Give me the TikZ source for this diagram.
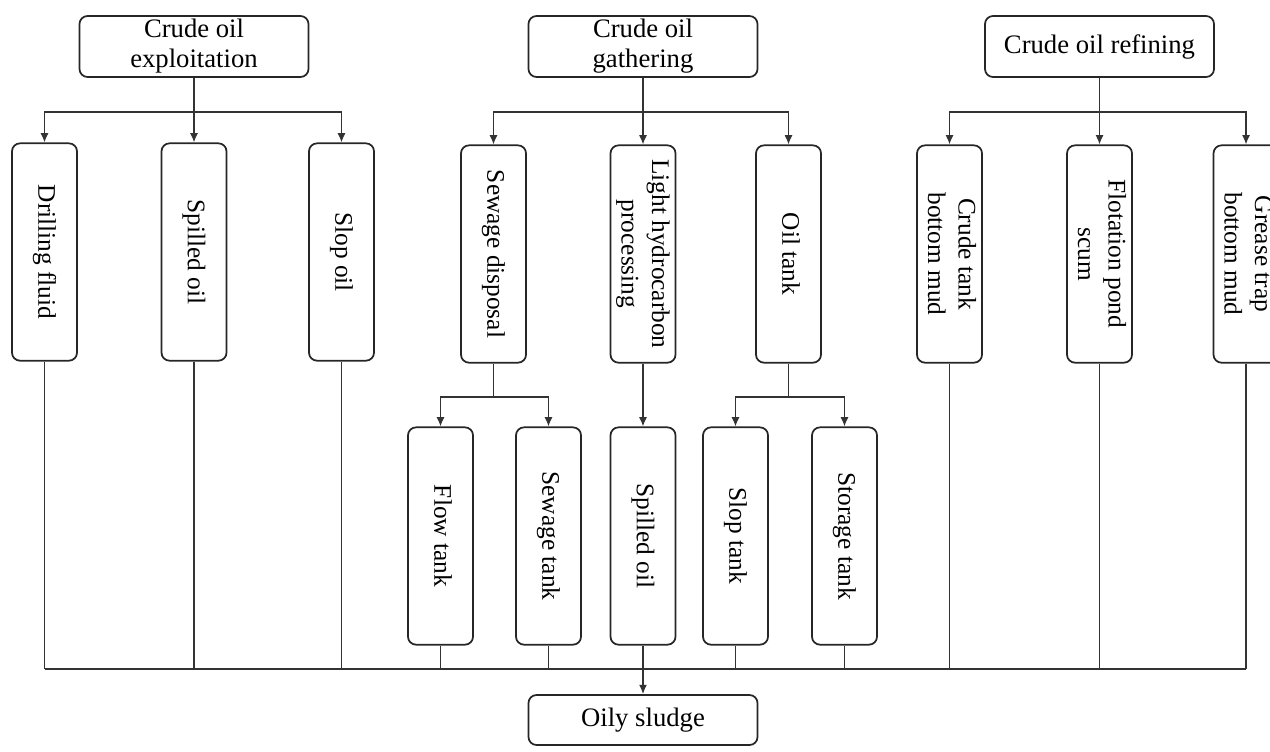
\documentclass[tikz,border=0pt]{standalone}
\usepackage{fontspec}
\setmainfont{Liberation Serif}
\usepackage{graphicx}
\usetikzlibrary{arrows.meta}
\newcommand{\vtext}[1]{\rotatebox{-90}{\fontsize{19}{23}\selectfont\begin{tabular}{@{}c@{}}#1\end{tabular}}}
\begin{document}
\begin{tikzpicture}[x=0.75pt,y=-0.75pt,
  topbox/.style={draw=black!85,line width=1.3pt,rounded corners=6pt,minimum width=171.75pt,minimum height=45.75pt,inner sep=0pt,align=center,font=\fontsize{20}{22.5}\selectfont},
  tallbox/.style={draw=black!85,line width=1.3pt,rounded corners=6pt,minimum width=48.75pt,minimum height=163pt,inner sep=0pt},
  conn/.style={draw=black!80,line width=1.1pt},
  arr/.style={conn,-{Latex[length=7pt,width=6pt]}}]
\useasboundingbox (0,0) rectangle (1270,751);
\clip (0,0) rectangle (1270,751);
% top level
\node[topbox] (E) at (194,46.5) {Crude oil\\exploitation};
\node[topbox] (G) at (643,46.5) {Crude oil\\gathering};
\node[topbox] (R) at (1099.5,46.5) {Crude oil refining};
% branch levels
\coordinate (b1) at (0,112);
\coordinate (b2) at (0,397);
\coordinate (bus) at (0,669);
% second level
\node[tallbox] (D)  at (44.5,252)  {\vtext{Drilling fluid}};
\node[tallbox] (S1) at (194,252)   {\vtext{Spilled oil}};
\node[tallbox] (SL) at (341.5,252) {\vtext{Slop oil}};
\node[tallbox] (SD) at (493.5,254) {\vtext{Sewage disposal}};
\node[tallbox] (LH) at (643,254) {\vtext{Light hydrocarbon\\processing}};
\node[tallbox] (OT) at (788.5,254) {\vtext{Oil tank}};
\node[tallbox] (CT) at (949.5,254) {\vtext{Crude tank\\bottom mud}};
\node[tallbox] (FP) at (1099.5,254) {\vtext{Flotation pond\\scum}};
\node[tallbox] (GT) at (1246,254)  {\vtext{Grease trap\\bottom mud}};
% third level
\node[tallbox] (FT) at (440.5,536) {\vtext{Flow tank}};
\node[tallbox] (ST) at (548.5,536) {\vtext{Sewage tank}};
\node[tallbox] (S2) at (643,536) {\vtext{Spilled oil}};
\node[tallbox] (SK) at (735.5,536) {\vtext{Slop tank}};
\node[tallbox] (SG) at (844.5,536) {\vtext{Storage tank}};
% bottom
\node[topbox,minimum height=37.5pt] (O) at (643,720) {Oily sludge};
% connectors level 1
\draw[conn] (E.south) -- (E.south|-b1);
\draw[arr] (E.south|-b1) -| (D.north);
\draw[arr] (E.south|-b1) -| (SL.north);
\draw[arr] (E.south) -- (S1.north);
\draw[conn] (G.south) -- (G.south|-b1);
\draw[arr] (G.south|-b1) -| (SD.north);
\draw[arr] (G.south|-b1) -| (OT.north);
\draw[arr] (G.south) -- (LH.north);
\draw[conn] (R.south) -- (R.south|-b1);
\draw[arr] (R.south|-b1) -| (CT.north);
\draw[arr] (R.south|-b1) -| (GT.north);
\draw[arr] (R.south) -- (FP.north);
% connectors level 2
\draw[conn] (SD.south) -- (SD.south|-b2);
\draw[arr] (SD.south|-b2) -| (FT.north);
\draw[arr] (SD.south|-b2) -| (ST.north);
\draw[arr] (LH.south) -- (S2.north);
\draw[conn] (OT.south) -- (OT.south|-b2);
\draw[arr] (OT.south|-b2) -| (SK.north);
\draw[arr] (OT.south|-b2) -| (SG.north);
% bus
\foreach \n in {D,S1,SL,CT,FP,GT,FT,ST,SK,SG}{
  \draw[conn] (\n.south) -- (\n.south|-bus);
}
\draw[conn] (D.south|-bus) -- (GT.south|-bus);
\draw[arr] (S2.south) -- (O.north);
\end{tikzpicture}
\end{document}
